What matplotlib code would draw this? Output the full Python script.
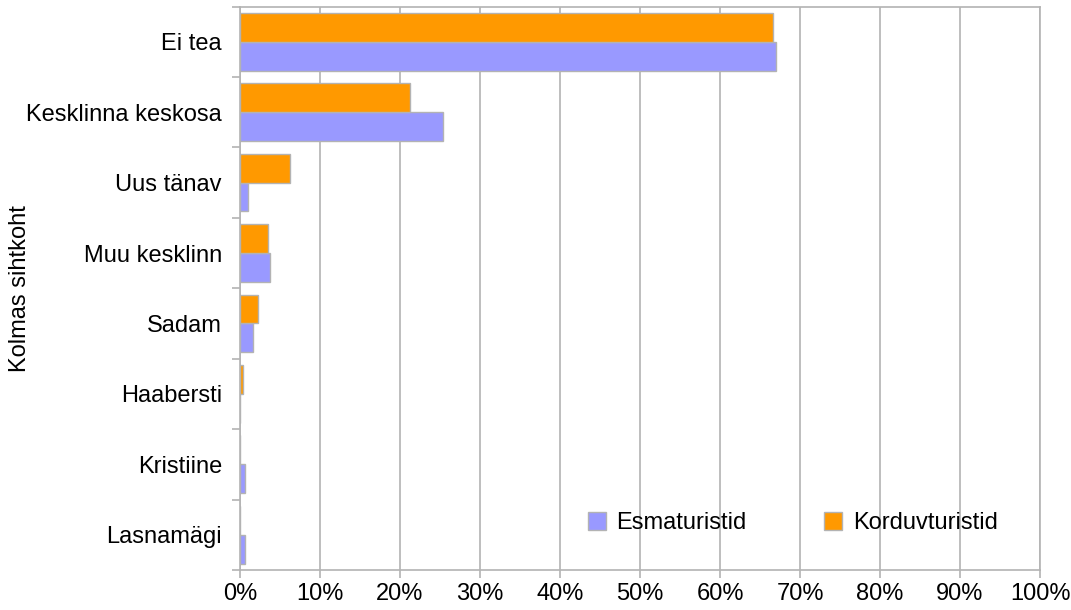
import matplotlib
matplotlib.use("Agg")
import matplotlib.pyplot as plt
import numpy as np
from matplotlib.ticker import FixedLocator, PercentFormatter

categories = ["Ei tea", "Kesklinna keskosa", "Uus tänav", "Muu kesklinn",
              "Sadam", "Haabersti", "Kristiine", "Lasnamägi"]
esmaturistid = [67.0, 25.4, 1.0, 3.7, 1.6, 0.0, 0.6, 0.6]
korduvturistid = [66.6, 21.3, 6.2, 3.5, 2.3, 0.4, 0.0, 0.0]
series_names = ["Esmaturistid", "Korduvturistid"]
x_ticks = list(range(0, 101, 10))
y_label = "Kolmas sihtkoht"

plt.rcParams['font.family'] = ['Liberation Sans', 'DejaVu Sans']
FS = 17

fig = plt.figure(figsize=(10.71, 6.10), dpi=100)
ax = fig.add_axes([240/1071, 1-570/610, 800/1071, 563.5/610])

grid_c = "#b3b3b3"
y = np.arange(len(categories))
h = 0.41
ax.barh(y + h/2, esmaturistid, height=h, color="#9999ff", edgecolor=grid_c,
        linewidth=1, label=series_names[0], zorder=3)
ax.barh(y - h/2, korduvturistid, height=h, color="#ff9900", edgecolor=grid_c,
        linewidth=1, label=series_names[1], zorder=3)

ax.set_xlim(0, 100)
ax.set_ylim(len(categories) - 0.5, -0.5)
ax.set_xticks(x_ticks)
ax.xaxis.set_major_formatter(PercentFormatter(decimals=0))
ax.set_yticks(y)
ax.set_yticklabels(categories)
ax.yaxis.set_minor_locator(FixedLocator(np.arange(-0.5, len(categories), 1)))
ax.tick_params(axis='y', which='major', length=0, pad=13, labelsize=FS)
ax.tick_params(axis='y', which='minor', length=6, color=grid_c, width=1.2)
ax.tick_params(axis='x', length=6, color=grid_c, width=1.2, labelsize=FS, pad=3)
ax.grid(axis='x', color=grid_c, linewidth=1.2, zorder=0)
for s in ax.spines.values():
    s.set_color(grid_c)
    s.set_linewidth(1.2)

fig.text(20/1071, 1-289/610, y_label, rotation=90, ha='center', va='center', fontsize=FS)

leg = ax.legend(loc='center', bbox_to_anchor=(0.691, 0.083), ncol=2, frameon=False,
                fontsize=FS, handlelength=0.75, handleheight=0.75,
                handletextpad=0.45, columnspacing=3.3)
for p in leg.get_patches():
    p.set_edgecolor(grid_c)

fig.savefig("out.png", dpi=100)
